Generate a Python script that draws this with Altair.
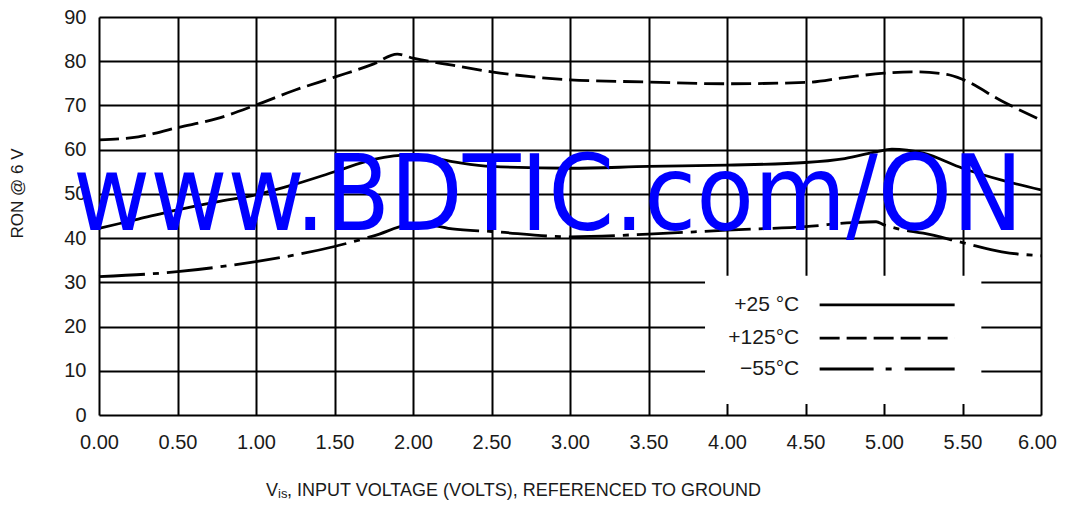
import altair as alt
import pandas as pd

# ---- data ----
x125 = [0, 0.25, 0.5, 0.75, 1.0, 1.25, 1.5, 1.75, 1.9, 2.0, 2.25, 2.5, 2.75, 3.0, 3.5, 4.0, 4.5, 4.75, 5.0, 5.2, 5.4, 5.5, 5.75, 6.0]
y125 = [62.2, 62.9, 65.0, 67.0, 70.1, 73.5, 76.4, 79.4, 81.6, 80.7, 79.1, 77.6, 76.5, 75.8, 75.3, 74.9, 75.2, 76.3, 77.3, 77.6, 77.0, 75.9, 71.0, 66.7]

x25 = [0, 0.25, 0.5, 0.75, 1.0, 1.25, 1.5, 1.75, 2.0, 2.25, 2.5, 3.0, 3.5, 4.0, 4.5, 4.75, 4.95, 5.05, 5.25, 5.5, 5.75, 6.0]
y25 = [42.2, 44.3, 46.4, 48.2, 49.8, 52.2, 55.0, 57.8, 58.8, 57.3, 56.2, 55.8, 56.2, 56.5, 57.1, 58.0, 59.5, 60.1, 59.2, 55.8, 53.1, 50.9]

x55 = [0, 0.5, 1.0, 1.25, 1.5, 1.75, 2.0, 2.1, 2.25, 2.5, 3.0, 3.5, 4.0, 4.5, 4.8, 4.95, 5.0, 5.1, 5.25, 5.5, 5.75, 6.0]
y55 = [31.3, 32.4, 34.7, 36.2, 38.1, 40.5, 43.1, 43.0, 42.1, 41.5, 40.3, 40.9, 41.8, 42.6, 43.5, 43.7, 43.0, 42.0, 41.1, 39.0, 36.9, 36.0]

legend_labels = ["+25 °C", "+125°C", "\u221255°C"]
legend_y = [24.9, 17.4, 10.4]
legend_text_x = 4.46
legend_line_x = [4.59, 5.45]
legend_box_x = [3.86, 5.62]
legend_box_y = [2.5, 31.5]

watermark = "www.BDTIC.com/ON"
watermark_pos = [-0.165, 41.8]

x_ticks = [0, 0.5, 1, 1.5, 2, 2.5, 3, 3.5, 4, 4.5, 5, 5.5, 6]
y_ticks = [0, 10, 20, 30, 40, 50, 60, 70, 80, 90]

W, H = 942, 398
FONT = "Liberation Sans"
INK = "#1a1a1a"

xs = alt.Scale(domain=[0, 6], nice=False, zero=False)
ys = alt.Scale(domain=[0, 90], nice=False)

xaxis = alt.Axis(values=x_ticks, format=".2f", title=None, ticks=False, domain=False,
                 grid=True, gridColor="black", gridWidth=2, gridOpacity=1, labelFlush=False,
                 labelOffset={"condition": {"test": "datum.value >= 6", "value": -4}, "value": 0},
                 labelFont=FONT, labelFontSize=20, labelColor=INK, labelPadding=17)
yaxis = alt.Axis(values=y_ticks, title="RON @ 6 V", ticks=False, domain=False,
                 grid=True, gridColor="black", gridWidth=2, gridOpacity=1, labelFlush=False,
                 labelFont=FONT, labelFontSize=20, labelColor=INK, labelPadding=13,
                 titleFont=FONT, titleFontSize=17, titleFontWeight="normal", titleColor=INK,
                 titleX=-82, titleY=176, titleAngle=270, titleBaseline="middle", titleAlign="center")

def series(xv, yv):
    return pd.DataFrame({"x": xv, "y": yv})

base_line = dict(color="black", strokeWidth=2.8, interpolate="monotone")

l125 = alt.Chart(series(x125, y125)).mark_line(strokeDash=[20, 7], **base_line).encode(
    x=alt.X("x:Q", scale=xs, axis=xaxis), y=alt.Y("y:Q", scale=ys, axis=yaxis))
l25 = alt.Chart(series(x25, y25)).mark_line(**base_line).encode(
    x=alt.X("x:Q", scale=xs), y=alt.Y("y:Q", scale=ys))
l55 = alt.Chart(series(x55, y55)).mark_line(strokeDash=[46, 8, 6, 8], **base_line).encode(
    x=alt.X("x:Q", scale=xs), y=alt.Y("y:Q", scale=ys))

box = alt.Chart(pd.DataFrame({"x": [legend_box_x[0]], "x2": [legend_box_x[1]],
                              "y": [legend_box_y[0]], "y2": [legend_box_y[1]]})).mark_rect(
    color="white").encode(x=alt.X("x:Q", scale=xs), x2="x2", y=alt.Y("y:Q", scale=ys), y2="y2")

leg_df = pd.DataFrame({"label": legend_labels, "y": legend_y,
                       "tx": [legend_text_x] * 3,
                       "x1": [legend_line_x[0]] * 3, "x2": [legend_line_x[1]] * 3})
leg_text = alt.Chart(leg_df).mark_text(align="right", baseline="middle", font=FONT,
                                       fontSize=21, color=INK).encode(
    x=alt.X("tx:Q", scale=xs), y=alt.Y("y:Q", scale=ys), text="label:N")
leg_solid = alt.Chart(leg_df.iloc[[0]]).mark_rule(color="black", strokeWidth=2.8).encode(
    x=alt.X("x1:Q", scale=xs), x2="x2", y=alt.Y("y:Q", scale=ys))
leg_dash = alt.Chart(leg_df.iloc[[1]]).mark_rule(color="black", strokeWidth=2.8, strokeDash=[20, 7]).encode(
    x=alt.X("x1:Q", scale=xs), x2="x2", y=alt.Y("y:Q", scale=ys))
leg_dd = alt.Chart(leg_df.iloc[[2]]).mark_rule(color="black", strokeWidth=2.8, strokeDash=[54, 12, 6, 13]).encode(
    x=alt.X("x1:Q", scale=xs), x2="x2", y=alt.Y("y:Q", scale=ys))

wm = alt.Chart(pd.DataFrame({"x": [watermark_pos[0]], "y": [watermark_pos[1]], "t": [watermark]})).mark_text(
    align="left", baseline="alphabetic", font="DejaVu Sans Condensed",
    fontSize=105, color="#0000ff").encode(
    x=alt.X("x:Q", scale=xs), y=alt.Y("y:Q", scale=ys), text="t:N")

# x-axis title with subscript
title_parts = ["V", "is", ", INPUT VOLTAGE (VOLTS), REFERENCED TO GROUND"]
t1 = alt.Chart(pd.DataFrame({"t": [title_parts[0]]})).mark_text(
    align="left", baseline="alphabetic", font=FONT, fontSize=18, color=INK).encode(
    x=alt.value(167), y=alt.value(479), text="t:N")
t2 = alt.Chart(pd.DataFrame({"t": [title_parts[1]]})).mark_text(
    align="left", baseline="alphabetic", font=FONT, fontSize=13, color=INK).encode(
    x=alt.value(179), y=alt.value(481), text="t:N")
t3 = alt.Chart(pd.DataFrame({"t": [title_parts[2]]})).mark_text(
    align="left", baseline="alphabetic", font=FONT, fontSize=18, color=INK).encode(
    x=alt.value(188), y=alt.value(479), text="t:N")

chart = alt.layer(box, l125, l25, l55, leg_text, leg_solid, leg_dash, leg_dd, wm, t1, t2, t3).properties(
    width=W, height=H,
    autosize=alt.AutoSizeParams(type="none"),
    padding={"left": 91, "top": 9, "right": 16, "bottom": 85},
).configure_view(stroke="black", strokeWidth=2).configure(background="white")

chart.save("out.html", embed_options={"renderer": "svg", "actions": False})
